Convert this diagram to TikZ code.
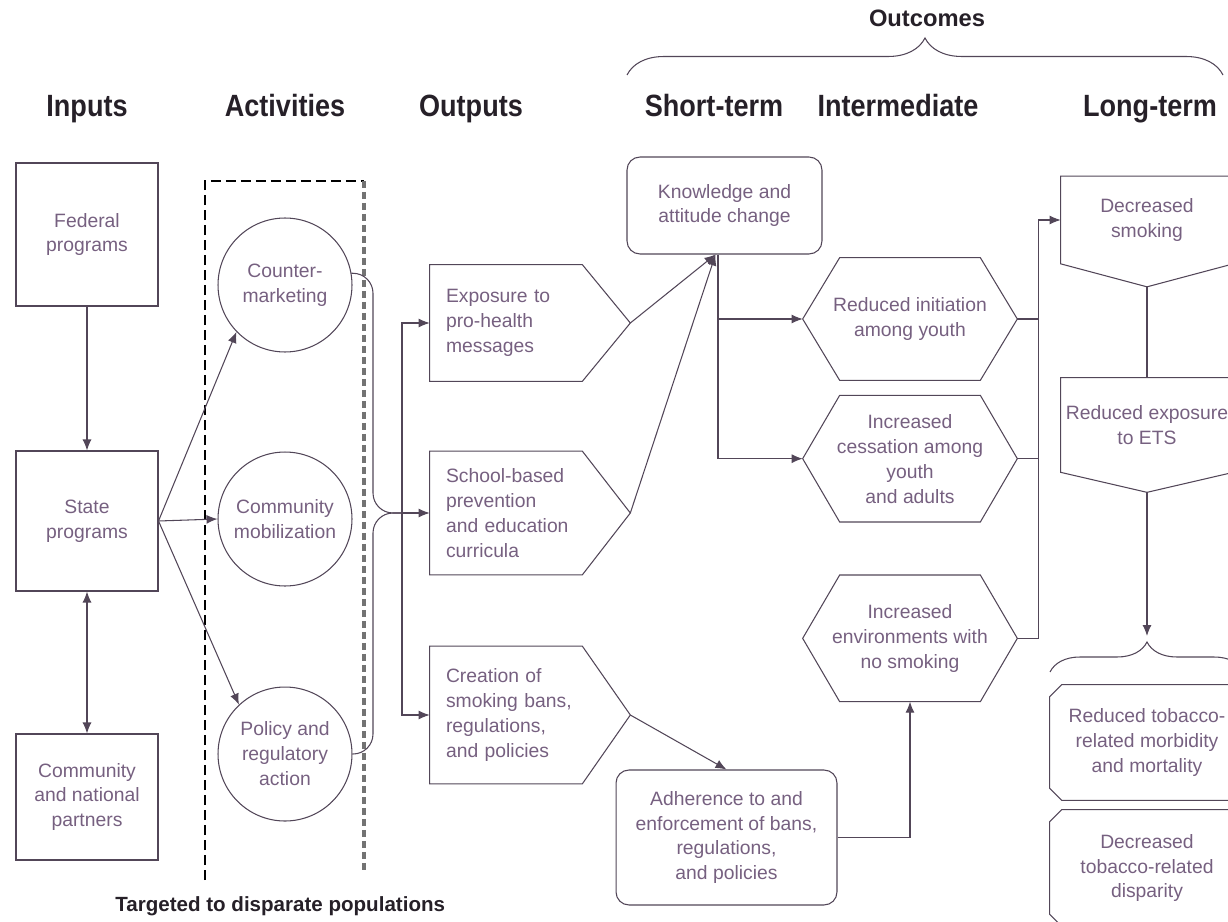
\documentclass[tikz,border=0pt]{standalone}
\usepackage{fontspec}
\setmainfont{Liberation Sans}
\newfontfamily\narrowfont[FakeStretch=0.88]{Liberation Sans}
\usepackage{xcolor}
\usepackage{tikz}
\usetikzlibrary{arrows.meta, positioning, decorations.pathreplacing}

\definecolor{linecol}{RGB}{82,70,88}
\definecolor{txtcol}{RGB}{118,96,128}
\definecolor{headcol}{RGB}{38,32,40}

\begin{document}
\begin{tikzpicture}[x=0.02cm, y=-0.02cm]
\tikzstyle{head} = [font=\narrowfont\bfseries\fontsize{17.5}{20}\selectfont, text=headcol, inner sep=0, anchor=base]
\tikzstyle{txt} = [font=\fontsize{11}{14.2}\selectfont, text=txtcol, align=center, inner sep=0]
\tikzstyle{inbox} = [txt, rectangle, draw=linecol, line width=0.6pt, minimum width=2.84cm]
\tikzstyle{act} = [txt, circle, draw=linecol, line width=0.6pt, minimum size=2.68cm]
\tikzstyle{outp} = [txt, align=left, inner xsep=0.32cm, text width=3.36cm]
\tikzstyle{hexa} = [txt, minimum width=4.28cm]
\tikzstyle{rbox} = [txt, rectangle, rounded corners=0.26cm, draw=linecol, line width=0.6pt]
\tikzstyle{ltm} = [txt, minimum width=3.44cm]
\tikzstyle{endbox} = [txt, minimum width=3.88cm]
\tikzstyle{outline} = [draw=linecol, line width=0.6pt]
\tikzstyle{conn} = [linecol, line width=0.6pt]
\tikzstyle{arrow} = [conn, -{Latex[length=0.22cm, width=0.18cm]}]
\tikzstyle{dblarrow} = [conn, {Latex[length=0.22cm, width=0.18cm]}-{Latex[length=0.22cm, width=0.18cm]}]

\useasboundingbox (0,0) rectangle (1228,922);
\clip (0,0) rectangle (1228,922);

% column heads
\node[head] (hin) at (87,117) {Inputs};
\node[head] (hact) at (285,117) {Activities};
\node[head] (hout) at (471,117) {Outputs};
\node[head] (hshort) at (714,117) {Short-term};
\node[head] (hmid) at (898,117) {Intermediate};
\node[head] (hlong) at (1150,117) {Long-term};
\node[font=\bfseries\fontsize{13.5}{15}\selectfont, text=headcol, inner sep=0, anchor=base] (hall) at (927,27) {Outcomes};
\draw[conn, decorate, decoration={brace, amplitude=0.74cm}] (627,75) -- (1223,75);

% inputs
\node[inbox, minimum height=2.86cm] (fed) at (87,234.5) {Federal\\programs};
\node[inbox, minimum height=2.8cm, below=2.88cm of fed] (state) {State\\programs};
\node[inbox, minimum height=2.52cm, below=2.84cm of state] (comm) {Community\\and national\\partners};

% activities
\node[act] (cm) at (285,285) {Counter-\\marketing};
\node[act, below=1.98cm of cm] (mob) {Community\\mobilization};
\node[act, below=2cm of mob] (pol) {Policy and\\regulatory\\action};
\draw[black, line width=1.1pt, dash pattern=on 0.2cm off 0.1cm] (205,880) -- (205,181) -- (364,181);
\draw[black!55, line width=1.8pt, dash pattern=on 0.14cm off 0.08cm] (364,181) -- (364,873);
\node[font=\bfseries\fontsize{11.7}{14}\selectfont, text=headcol, inner sep=0, anchor=base west] (target) at (115,911) {Targeted to disparate populations};

% outputs
\node[outp, minimum height=2.32cm] (expo) at (530,323) {Exposure to\\pro-health\\messages};
\node[outp, minimum height=2.46cm] (school) at (530,513) {School-based\\prevention\\and education\\curricula};
\node[outp, minimum height=2.74cm] (creat) at (530,715) {Creation of\\smoking bans,\\regulations,\\and policies};
\draw[outline] (expo.north west) -- ([xshift=-0.96cm]expo.north east) -- (expo.east) -- ([xshift=-0.96cm]expo.south east) -- (expo.south west) -- cycle;
\draw[outline] (school.north west) -- ([xshift=-0.96cm]school.north east) -- (school.east) -- ([xshift=-0.96cm]school.south east) -- (school.south west) -- cycle;
\draw[outline] (creat.north west) -- ([xshift=-0.96cm]creat.north east) -- (creat.east) -- ([xshift=-0.96cm]creat.south east) -- (creat.south west) -- cycle;

% short-term
\node[rbox, minimum width=3.9cm, minimum height=1.94cm] (know) at (724.5,205.5) {Knowledge and\\attitude change};
\node[rbox, minimum width=4.42cm, minimum height=2.7cm] (adh) at (726.5,837.5) {Adherence to and\\enforcement of bans,\\regulations,\\and policies};

% intermediate
\node[hexa, minimum height=2.44cm] (init) at (910,319) {Reduced initiation\\among youth};
\node[hexa, minimum height=2.52cm, below=0.3cm of init] (cess) {Increased\\cessation among\\youth\\and adults};
\node[hexa, minimum height=2.52cm, below=1.06cm of cess] (env) {Increased\\environments with\\no smoking};
\draw[outline] ([xshift=0.74cm]init.north west) -- ([xshift=-0.74cm]init.north east) -- (init.east) -- ([xshift=-0.74cm]init.south east) -- ([xshift=0.74cm]init.south west) -- (init.west) -- cycle;
\draw[outline] ([xshift=0.74cm]cess.north west) -- ([xshift=-0.74cm]cess.north east) -- (cess.east) -- ([xshift=-0.74cm]cess.south east) -- ([xshift=0.74cm]cess.south west) -- (cess.west) -- cycle;
\draw[outline] ([xshift=0.74cm]env.north west) -- ([xshift=-0.74cm]env.north east) -- (env.east) -- ([xshift=-0.74cm]env.south east) -- ([xshift=0.74cm]env.south west) -- (env.west) -- cycle;

% long-term
\node[ltm, minimum height=1.74cm] (ds) at (1147,220) {Decreased\\smoking};
\node[ltm, minimum height=1.88cm] (rex) at (1147,425) {Reduced exposure\\to ETS};
\node[endbox, minimum height=2.3cm] (morb) at (1147,742.5) {Reduced tobacco-\\related morbidity\\and mortality};
\node[endbox, minimum height=2.32cm] (disp) at (1147,868) {Decreased\\tobacco-related\\disparity};
\draw[outline] (ds.north west) -- (ds.north east) -- (ds.south east) -- ([yshift=-0.46cm]ds.south) -- (ds.south west) -- cycle;
\draw[outline] (rex.north west) -- (rex.north east) -- (rex.south east) -- ([yshift=-0.4cm]rex.south) -- (rex.south west) -- cycle;
\draw[outline] ([xshift=0.24cm]morb.north west) -- ([xshift=-0.24cm]morb.north east) -- ([yshift=-0.24cm]morb.north east) -- ([yshift=0.24cm]morb.south east) -- ([xshift=-0.24cm]morb.south east) -- ([xshift=0.24cm]morb.south west) -- ([yshift=0.24cm]morb.south west) -- ([yshift=-0.24cm]morb.north west) -- cycle;
\draw[outline] ([xshift=0.24cm]disp.north west) -- ([xshift=-0.24cm]disp.north east) -- ([yshift=-0.24cm]disp.north east) -- ([yshift=0.24cm]disp.south east) -- ([xshift=-0.24cm]disp.south east) -- ([xshift=0.24cm]disp.south west) -- ([yshift=0.24cm]disp.south west) -- ([yshift=-0.24cm]disp.north west) -- cycle;

% connectors
\draw[arrow] (fed) -- (state);
\draw[dblarrow] (state) -- (comm);
\draw[arrow] (state.east) -- (cm.224);
\draw[arrow] (state.east) -- (mob.west);
\draw[arrow] (state.east) -- (pol.133);
\coordinate (junc) at (402,513);
\draw[conn, rounded corners=0.4cm] (cm.10) -| (373,513) -- (junc);
\draw[conn, rounded corners=0.4cm] (pol.east) -| (373,513) -- (junc);
\draw[arrow] (junc) -- (school.west);
\draw[arrow] (junc) |- (expo.west);
\draw[arrow] (junc) |- (creat.west);
\draw[arrow] (expo.east) -- ([xshift=-0.18cm]know.south);
\draw[arrow] (school.east) -- ([xshift=-0.18cm]know.south);
\draw[arrow] ([xshift=-0.13cm]know.south) |- (init.west);
\draw[arrow] ([xshift=-0.13cm]know.south) |- (cess.west);
\draw[arrow] (creat.east) -- (adh.north);
\draw[arrow] (adh.east) -| (env.south);
\draw[conn] (init.east) -- +(21,0);
\draw[conn] (cess.east) -- +(21,0);
\draw[arrow] (env.east) -- +(21,0) |- (ds.west);
\draw[conn] ([yshift=-0.46cm]ds.south) -- (rex.north);
\coordinate (lbrace) at (1147,636);
\draw[arrow] ([yshift=-0.4cm]rex.south) -- (lbrace);
\draw[conn, decorate, decoration={brace, amplitude=0.6cm}] (1050,672) -- (1244,672);

\end{tikzpicture}
\end{document}
